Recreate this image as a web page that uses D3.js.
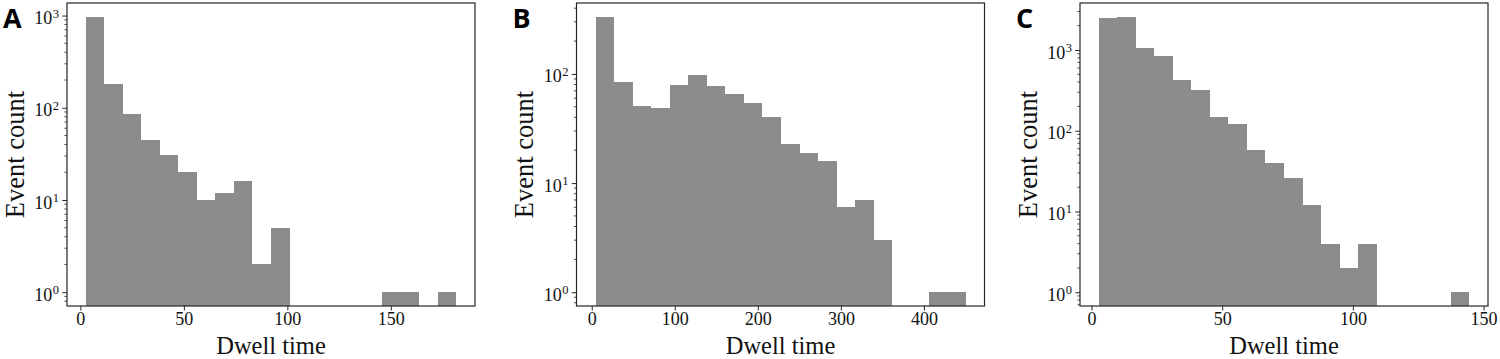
<!DOCTYPE html>
<html>
<head>
<meta charset="utf-8">
<script src="https://cdn.jsdelivr.net/npm/d3@7"></script>
<style>
  body { margin: 0; background: #fff; }
  svg { display: block; }
  .tick text, .lbl { font-family: "Liberation Serif", "DejaVu Serif", serif; fill: #111; }
  .letter { font-family: "Open Sans", "Liberation Sans", sans-serif; font-weight: 700; fill: #000; }
</style>
</head>
<body>
<div id="chart"></div>
<script>
// histogram counts per bin (20 bins each)
const countsA = [970, 181, 85, 45, 31, 20, 10, 12, 16, 2, 5, 0, 0, 0, 0, 0, 1, 1, 0, 1]
const countsB = [334, 84, 51, 49, 79, 98, 78, 65, 54, 40, 23, 19, 16, 6, 7, 3, 0, 0, 1, 1]
const countsC = [2500, 2580, 1065, 833, 428, 321, 148, 122, 58, 40, 26, 12, 4, 2, 4, 0, 0, 0, 0, 1]

// first and last bin edge (dwell time)
const rangeA = [2.5, 181.7]
const rangeB = [4, 450.6]
const rangeC = [2.7, 144.6]

const xTicksA = [0, 50, 100, 150]
const xTicksB = [0, 100, 200, 300, 400]
const xTicksC = [0, 50, 100, 150]
const yTicksA = [1, 10, 100, 1000]
const yTicksB = [1, 10, 100]
const yTicksC = [1, 10, 100, 1000]

const letters = ["A", "B", "C"]
const xLabel = "Dwell time"
const yLabel = "Event count"

const width = 1500
const height = 359
const plotWidth = 408
const plotHeight = 303
const plotTop = 3
const lefts = [67, 576.5, 1080]
const barColor = "#8c8c8c"
const axisColor = "#262626"

const svg = d3.select("#chart").append("svg").attr("width", width).attr("height", height)

const panels = [
  {counts: countsA, range: rangeA, xTicks: xTicksA, yTicks: yTicksA},
  {counts: countsB, range: rangeB, xTicks: xTicksB, yTicks: yTicksB},
  {counts: countsC, range: rangeC, xTicks: xTicksC, yTicks: yTicksC}
]

panels.forEach((p, i) => {
  const g = svg.append("g").attr("transform", `translate(${lefts[i]},${plotTop})`)

  // matplotlib style 5% margins (log space for y)
  const binW = (p.range[1] - p.range[0]) / p.counts.length
  const xPad = (p.range[1] - p.range[0]) * 0.05
  const x = d3.scaleLinear().domain([p.range[0] - xPad, p.range[1] + xPad]).range([0, plotWidth])

  const lo = Math.log10(d3.min(p.counts.filter(c => c > 0)))
  const hi = Math.log10(d3.max(p.counts))
  const yPad = (hi - lo) * 0.05
  const y = d3.scaleLog().domain([10 ** (lo - yPad), 10 ** (hi + yPad)]).range([plotHeight, 0])

  const bins = p.counts.map((c, k) => ({
    x0: p.range[0] + k * binW,
    x1: p.range[0] + (k + 1) * binW,
    count: c
  })).filter(d => d.count > 0)

  // rounded edges so neighbouring bars don't show seams
  g.selectAll("rect.bar")
    .data(bins)
    .join("rect")
    .attr("class", "bar")
    .attr("x", d => Math.round(x(d.x0)))
    .attr("width", d => Math.round(x(d.x1)) - Math.round(x(d.x0)))
    .attr("y", d => Math.round(y(d.count)))
    .attr("height", d => plotHeight - Math.round(y(d.count)))
    .attr("fill", barColor)
    .attr("shape-rendering", "crispEdges")

  // x axis
  const xAxis = g.append("g")
    .attr("transform", `translate(0,${plotHeight})`)
    .call(d3.axisBottom(x).tickValues(p.xTicks).tickSize(4.5).tickPadding(1.5).tickFormat(d3.format("d")))
  xAxis.select(".domain").remove()
  xAxis.selectAll(".tick line").attr("stroke", axisColor).attr("stroke-width", 1)
  xAxis.selectAll(".tick text").attr("font-size", 18).attr("dy", "0.72em")

  // y minor ticks
  const [d0, d1] = y.domain()
  const minors = []
  for (let e = Math.floor(Math.log10(d0)); e <= Math.ceil(Math.log10(d1)); e++) {
    for (let m = 2; m <= 9; m++) {
      const v = m * 10 ** e
      if (v >= d0 && v <= d1) minors.push(v)
    }
  }
  g.append("g").selectAll("line")
    .data(minors)
    .join("line")
    .attr("x1", -2.6).attr("x2", 0)
    .attr("y1", d => y(d)).attr("y2", d => y(d))
    .attr("stroke", axisColor).attr("stroke-width", 0.8)

  // y major ticks with 10^k labels
  const yAxis = g.append("g")
    .call(d3.axisLeft(y).tickValues(p.yTicks).tickSize(4.7).tickFormat(""))
  yAxis.select(".domain").remove()
  yAxis.selectAll(".tick line").attr("stroke", axisColor).attr("stroke-width", 1)
  const lab = yAxis.selectAll(".tick").append("text")
    .attr("x", -8)
    .attr("y", 8)
    .attr("font-size", 18)
    .attr("text-anchor", "end")
    .attr("fill", "#111")
  lab.append("tspan").text("10")
  lab.append("tspan")
    .attr("dx", 0.5)
    .attr("dy", -6.5)
    .attr("font-size", 12.5)
    .text(d => Math.round(Math.log10(d)))

  // frame
  g.append("rect")
    .attr("width", plotWidth)
    .attr("height", plotHeight)
    .attr("fill", "none")
    .attr("stroke", axisColor)
    .attr("stroke-width", 1.2)

  g.append("text")
    .attr("class", "lbl")
    .attr("x", plotWidth / 2)
    .attr("y", plotHeight + 48)
    .attr("text-anchor", "middle")
    .attr("font-size", 24.5)
    .text(xLabel)

  g.append("text")
    .attr("class", "lbl")
    .attr("transform", `translate(-43.5,${plotHeight / 2}) rotate(-90)`)
    .attr("text-anchor", "middle")
    .attr("font-size", 26.5)
    .text(yLabel)

  g.append("text")
    .attr("class", "letter")
    .attr("x", -64)
    .attr("y", 25)
    .attr("font-size", 27)
    .text(letters[i])
})
</script>
</body>
</html>
